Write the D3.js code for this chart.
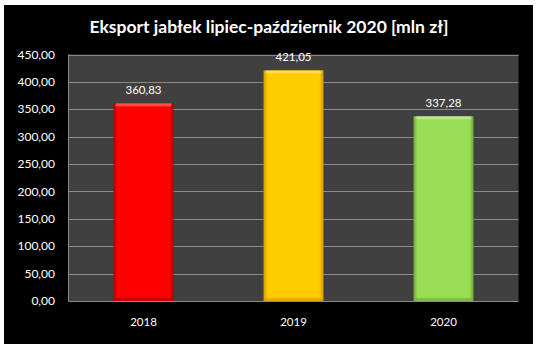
<!DOCTYPE html>
<html><head><meta charset="utf-8">
<script src="https://cdn.jsdelivr.net/npm/d3@7"></script>
<style>body{margin:0;background:#fff}</style>
</head><body>
<svg id="c" width="539" height="350"></svg>
<script>
const categories = ["2018", "2019", "2020"];
const values = [360.83, 421.05, 337.28];
const labels = ["360,83", "421,05", "337,28"];
const colors = ["#FF0000", "#FFCC00", "#99DD55"];
const edgeColors = ["#B00000", "#D09A00", "#6FA83A"];
const yTicks = [0, 50, 100, 150, 200, 250, 300, 350, 400, 450];
const title = "Eksport jabłek lipiec-październik 2020 [mln zł]";

const svg = d3.select("#c");
svg.append("rect").attr("x", 4).attr("y", 5).attr("width", 529).attr("height", 339).attr("fill", "#000");

const L = 68.5, R = 518.5, T = 54.5, B = 301;
const x = d3.scaleBand().domain(categories).range([L, R]).paddingInner(0.6).paddingOuter(0.3);
const y = d3.scaleLinear().domain([0, 450]).range([B, T]);

svg.append("rect").attr("x", L).attr("y", T).attr("width", R - L).attr("height", B - T).attr("fill", "#404040");

const fmt = v => d3.format(".2f")(v).replace(".", ",");

svg.append("g").selectAll("line").data(yTicks).join("line")
  .attr("x1", L).attr("x2", R).attr("y1", d => Math.round(y(d)) + 0.5).attr("y2", d => Math.round(y(d)) + 0.5)
  .attr("stroke", "#8a8a8a").attr("stroke-width", 1);
svg.append("line").attr("x1", L).attr("x2", L).attr("y1", T).attr("y2", B).attr("stroke", "#8a8a8a");

svg.append("g").selectAll("text").data(yTicks).join("text")
  .attr("x", 55).attr("y", d => y(d)).attr("dy", "0.35em").attr("text-anchor", "end")
  .attr("fill", "#fff").attr("font-family", "Lato, sans-serif").attr("font-size", 12)
  .text(fmt);

const defs = svg.append("defs");
categories.forEach((c, i) => {
  const g = defs.append("linearGradient").attr("id", "g" + i).attr("x1", 0).attr("x2", 1).attr("y1", 0).attr("y2", 0);
  g.append("stop").attr("offset", "0").attr("stop-color", edgeColors[i]);
  g.append("stop").attr("offset", "0.07").attr("stop-color", colors[i]);
  g.append("stop").attr("offset", "0.93").attr("stop-color", colors[i]);
  g.append("stop").attr("offset", "1").attr("stop-color", edgeColors[i]);
});

const bars = svg.append("g");
bars.selectAll("rect.bar").data(values).join("rect").attr("class", "bar")
  .attr("x", (d, i) => x(categories[i])).attr("width", x.bandwidth())
  .attr("y", d => y(d)).attr("height", d => y(0) - y(d))
  .attr("fill", (d, i) => `url(#g${i})`);
bars.selectAll("rect.top").data(values).join("rect").attr("class", "top")
  .attr("x", (d, i) => x(categories[i]) + 2).attr("width", x.bandwidth() - 4)
  .attr("y", d => y(d)).attr("height", 3)
  .attr("fill", "#fff").attr("opacity", 0.3);
bars.selectAll("rect.bot").data(values).join("rect").attr("class", "bot")
  .attr("x", (d, i) => x(categories[i]) + 2).attr("width", x.bandwidth() - 4)
  .attr("y", y(0) - 3).attr("height", 3)
  .attr("fill", (d, i) => edgeColors[i]).attr("opacity", 0.6);

svg.append("g").selectAll("text").data(values).join("text")
  .attr("x", (d, i) => x(categories[i]) + x.bandwidth() / 2).attr("y", d => y(d) - 9)
  .attr("text-anchor", "middle").attr("fill", "#fff").attr("font-family", "Lato, sans-serif").attr("font-size", 11.5)
  .text((d, i) => labels[i]);

svg.append("g").selectAll("text").data(categories).join("text")
  .attr("x", d => x(d) + x.bandwidth() / 2).attr("y", 322).attr("dy", "0.35em")
  .attr("text-anchor", "middle").attr("fill", "#fff").attr("font-family", "Lato, sans-serif").attr("font-size", 11.5)
  .text(d => d);

svg.append("text").attr("x", 269).attr("y", 32.5).attr("text-anchor", "middle")
  .attr("fill", "#fff").attr("font-family", "Lato, sans-serif").attr("font-weight", "bold").attr("font-size", 17.5)
  .text(title);
</script>
</body></html>
